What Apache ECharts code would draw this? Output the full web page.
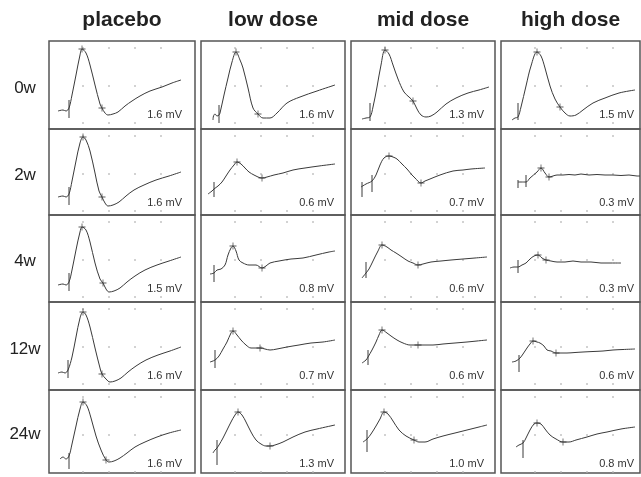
<!DOCTYPE html>
<html><head><meta charset="utf-8">
<script src="https://cdn.jsdelivr.net/npm/echarts@6/dist/echarts.min.js"></script>
<style>html,body{margin:0;padding:0;background:#fff}#c{width:641px;height:477px}</style>
</head><body><div id="c"></div>
<script>
// ---- labels ----
const groups = ['placebo', 'low dose', 'mid dose', 'high dose'];
const weeks = ['0w', '2w', '4w', '12w', '24w'];
// amplitude labels (mV) per week, columns = groups
const amp_0w  = [1.6, 1.6, 1.3, 1.5];
const amp_2w  = [1.6, 0.6, 0.7, 0.3];
const amp_4w  = [1.5, 0.8, 0.6, 0.3];
const amp_12w = [1.6, 0.7, 0.6, 0.6];
const amp_24w = [1.6, 1.3, 1.0, 0.8];

// ---- traces: [time sample, deflection (down = larger)] ----
const placebo_0w  = [[9,70],[14,69],[17,70],[20,67],[23,54],[27,34],[31,14],[33,8],[37,12],[41,24],[46,44],[51,63],[53,67],[56,72],[59,74],[64,73],[69,71],[76,65],[83,60],[91,55],[101,50],[113,46],[123,42],[132,39]];
const placebo_2w  = [[9,68],[14,67],[17,68],[20,65],[23,52],[27,32],[31,14],[34,8],[37,11],[41,22],[46,44],[50,62],[53,68],[56,74],[59,77],[64,76],[70,73],[77,67],[85,61],[95,56],[107,51],[120,47],[132,43]];
const placebo_4w  = [[9,70],[14,69],[17,70],[20,67],[23,55],[27,35],[31,17],[33,12],[37,15],[41,27],[46,48],[51,64],[54,68],[57,74],[60,77],[65,76],[71,73],[78,67],[86,61],[96,55],[108,50],[120,46],[132,42]];
const placebo_12w = [[9,71],[13,70],[16,71],[19,68],[23,55],[27,35],[31,16],[34,10],[37,13],[41,25],[46,46],[51,66],[53,72],[57,77],[61,80],[66,79],[72,76],[79,70],[87,64],[97,58],[109,53],[121,49],[132,45]];
const placebo_24w = [[11,69],[14,67],[17,69],[20,66],[23,54],[27,36],[31,19],[34,12],[38,16],[42,28],[47,46],[52,60],[57,70],[60,72],[65,71],[71,68],[78,63],[86,57],[96,52],[108,47],[120,43],[132,40]];

const low_0w  = [[12,79],[12.5,75],[14,73],[16,75],[18,74],[19,72],[23,54],[27,37],[31,21],[35,11],[39,19],[42,27],[47,47],[52,67],[57,73],[62,77],[69,77],[76,72],[86,62],[99,56],[116,50],[134,44]];
const low_2w  = [[7,65],[11,62],[13,60],[17,57],[21,53],[25,47],[29,41],[33,36],[36,33],[40,35],[44,39],[48,43],[53,46],[57,48],[61,49],[66,48],[73,46],[82,44],[92,41],[104,39],[118,37],[134,35]];
const low_4w  = [[9,59],[13,58],[16,55],[20,54],[24,50],[27,40],[30,33],[32,31],[35,36],[38,45],[42,48],[48,50],[55,50],[61,53],[65,51],[69,48],[78,46],[90,44],[102,43],[115,40],[128,37],[134,36]];
const low_12w = [[9,60],[14,58],[18,54],[22,47],[26,40],[30,31],[32,29],[36,33],[40,38],[45,43],[50,46],[55,46],[59,46],[64,47],[69,48],[76,47],[86,45],[98,43],[110,41],[122,40],[134,38]];
const low_24w = [[12,63],[14,60],[16,58],[18,55],[22,48],[26,40],[30,32],[34,25],[37,22],[41,25],[45,32],[50,42],[55,50],[60,54],[65,56],[69,56],[74,55],[82,52],[92,47],[104,42],[116,39],[134,35]];

const mid_0w  = [[11,78],[15,77],[19,76],[22,66],[26,46],[30,24],[34,9],[38,13],[42,24],[47,38],[53,51],[58,56],[62,60],[66,68],[70,74],[75,76],[80,75],[86,71],[95,63],[105,57],[117,52],[128,49],[138,46]];
const mid_2w  = [[10,58],[15,55],[21,52],[25,46],[29,36],[33,29],[38,27],[42,28],[46,30],[51,35],[56,40],[61,46],[64,49],[70,54],[74,52],[79,50],[89,46],[102,42],[112,41],[120,40],[134,39]];
const mid_4w  = [[11,63],[15,58],[18,54],[22,46],[27,36],[31,30],[36,32],[40,35],[45,38],[51,42],[57,46],[62,48],[67,50],[72,49],[80,47],[90,46],[100,45],[112,44],[124,43],[136,42]];
const mid_12w = [[11,61],[15,58],[17,55],[21,48],[25,40],[28,33],[31,28],[36,31],[40,34],[46,38],[52,41],[59,43],[67,43],[74,43],[82,43],[92,42],[104,41],[116,40],[126,39],[136,38]];
const mid_24w = [[12,52],[16,49],[20,44],[25,36],[29,29],[33,22],[37,24],[42,31],[48,40],[55,46],[63,50],[68,52],[74,52],[82,49],[92,46],[104,43],[116,40],[128,37],[136,35]];

const high_0w  = [[11,79],[14,77],[17,76],[20,66],[25,45],[30,25],[36,11],[40,15],[44,27],[49,45],[54,58],[59,66],[64,72],[69,75],[75,74],[82,69],[92,62],[104,57],[118,52],[134,49]];
const high_2w  = [[17,53],[25,53],[29,49],[36,43],[40,39],[44,44],[48,48],[52,47],[56,46],[62,46],[68,45.5],[74,46],[80,45],[88,46],[96,45.5],[104,46],[112,46],[120,46.5],[128,46],[136,47],[139,47]];
const high_4w  = [[9,53],[13,52],[17,52],[21,50],[25,48],[29,44],[33,41],[37,40],[41,43],[45,45],[50,46],[56,47],[64,47],[72,46],[80,47],[90,47],[100,48],[110,48],[120,48]];
const high_12w = [[11,60],[15,59],[19,56],[22,52],[26,46],[29,42],[32,39],[36,40],[39,41],[43,44],[46,48],[50,49],[55,51],[60,51],[66,51],[74,50.5],[82,50],[92,49.5],[102,49],[112,48],[122,47.5],[134,47]];
const high_24w = [[15,57],[18,55],[22,53],[25,48],[29,40],[33,34],[36,33],[40,34],[44,39],[49,45],[55,49],[62,52],[68,52],[75,50],[86,47],[96,44],[106,42],[120,39],[134,37]];

// ---- cursor marks (+) ----
const marks_placebo = [[[33,8],[53,67]], [[34,8],[53,68]], [[33,12],[54,68]], [[34,10],[53,72]], [[34,12],[57,70]]];
const marks_low     = [[[35,11],[57,73]], [[36,33],[61,49]], [[32,31],[61,53]], [[32,29],[59,46]], [[37,22],[69,56]]];
const marks_mid     = [[[34,9],[62,60]], [[38,27],[70,54]], [[31,30],[67,50]], [[31,28],[67,43]], [[33,22],[63,50]]];
const marks_high    = [[[36,11],[59,66]], [[40,39],[48,48]], [[37,40],[45,45]], [[32,39],[55,51]], [[36,33],[62,52]]];

// ---- stimulus artefacts: [time, top, bottom] ----
const stim_placebo = [[[20,59,77]], [[20,58,76]], [[20,58,76]], [[19,58,76]], [[20,63,79]]];
const stim_low     = [[[18,64,82]], [[13,53,68]], [[13,50,67]], [[14,48,66]], [[16,50,75]]];
const stim_mid     = [[[19,62,80]], [[11,53,68],[21,46,63]], [[15,47,63]], [[17,48,63]], [[16,40,62]]];
const stim_high    = [[[17,62,79]], [[17,51,59],[25,46,58]], [[17,45,58]], [[18,53,70]], [[22,50,68]]];

// background dot grid positions (axis units)
const dotX = [34, 60, 86, 112];
const dotY = [7, 45, 82];

// ---- layout ----
const colLeft = [49, 201, 351, 501];
const colW = [146, 144, 144, 139];
const rowTop = [41, 129, 215, 302, 390];
const rowH = [88, 86, 87, 88, 83];

const traces = [
  [placebo_0w, low_0w, mid_0w, high_0w],
  [placebo_2w, low_2w, mid_2w, high_2w],
  [placebo_4w, low_4w, mid_4w, high_4w],
  [placebo_12w, low_12w, mid_12w, high_12w],
  [placebo_24w, low_24w, mid_24w, high_24w]
];
const amps = [amp_0w, amp_2w, amp_4w, amp_12w, amp_24w];
const marks = [marks_placebo, marks_low, marks_mid, marks_high];
const stims = [stim_placebo, stim_low, stim_mid, stim_high];

const grids = [], xAxes = [], yAxes = [], series = [], graphics = [];
const plus = 'path://M4.4,0h1.2v4.4h4.4v1.2h-4.4v4.4h-1.2v-4.4h-4.4v-1.2h4.4z';
const dots = [];
dotX.forEach(x => dotY.forEach(y => dots.push([x, y])));

let gi = 0;
for (let r = 0; r < weeks.length; r++) {
  for (let c = 0; c < groups.length; c++) {
    grids.push({left: colLeft[c], top: rowTop[r], width: colW[c], height: rowH[r],
      show: true, borderColor: '#555', borderWidth: 1.5, backgroundColor: 'transparent'});
    xAxes.push({gridIndex: gi, type: 'value', min: 0, max: colW[c], show: false});
    yAxes.push({gridIndex: gi, type: 'value', min: 0, max: rowH[r], inverse: true, show: false});
    series.push({type: 'scatter', xAxisIndex: gi, yAxisIndex: gi, data: dots, symbolSize: 2,
      itemStyle: {color: '#b5b5b5'}, silent: true, z: 1});
    series.push({type: 'line', xAxisIndex: gi, yAxisIndex: gi, data: traces[r][c], showSymbol: false,
      smooth: 0.35, lineStyle: {color: '#3a3a3a', width: 1}, silent: true, z: 3});
    stims[c][r].forEach(s => {
      series.push({type: 'line', xAxisIndex: gi, yAxisIndex: gi, data: [[s[0], s[1]], [s[0], s[2]]],
        showSymbol: false, lineStyle: {color: '#3a3a3a', width: 1}, silent: true, z: 3});
    });
    series.push({type: 'scatter', xAxisIndex: gi, yAxisIndex: gi, data: marks[c][r], symbol: plus,
      symbolSize: 7, itemStyle: {color: '#333'}, silent: true, z: 4});
    graphics.push({type: 'text', x: colLeft[c] + 133, y: rowTop[r] + 74,
      style: {text: amps[r][c].toFixed(1) + ' mV', fontSize: 11, fontFamily: 'Liberation Sans, Arial, sans-serif',
        fill: '#333', textAlign: 'right', textVerticalAlign: 'middle'}});
    gi++;
  }
  graphics.push({type: 'text', x: 25, y: rowTop[r] + rowH[r] / 2 + 3,
    style: {text: weeks[r], fontSize: 17, fontFamily: 'Liberation Sans, Arial, sans-serif',
      fill: '#222', textAlign: 'center', textVerticalAlign: 'middle'}});
}
groups.forEach((g, c) => {
  graphics.push({type: 'text', x: colLeft[c] + colW[c] / 2, y: 20,
    style: {text: g, fontSize: 21, fontWeight: 'bold', fontFamily: 'Liberation Sans, Arial, sans-serif',
      fill: '#222', textAlign: 'center', textVerticalAlign: 'middle'}});
});

const chart = echarts.init(document.getElementById('c'), null, {renderer: 'canvas'});
chart.setOption({
  animation: false,
  backgroundColor: '#fff',
  grid: grids, xAxis: xAxes, yAxis: yAxes, series: series, graphic: graphics
});
</script></body></html>
